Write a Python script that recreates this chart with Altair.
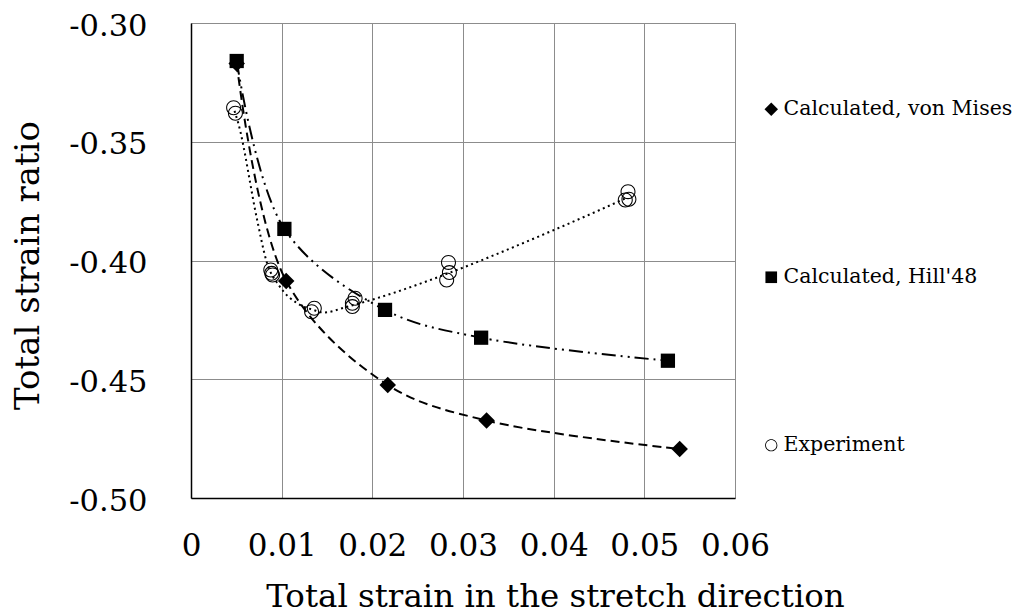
import altair as alt
import pandas as pd

names = ["Calculated, von Mises", "Calculated, Hill'48", "Experiment"]

vm_x = [0.00504, 0.0105, 0.0217, 0.0326, 0.0539]
vm_y = [-0.317, -0.4086, -0.4524, -0.4674, -0.4794]

hill_x = [0.00504, 0.0103, 0.0214, 0.0320, 0.0526]
hill_y = [-0.316, -0.3867, -0.4208, -0.4325, -0.4422]

exp_x = [0.0047, 0.0049, 0.0088, 0.0089, 0.0090, 0.0136, 0.0133,
         0.0181, 0.0178, 0.0178, 0.0284, 0.0285, 0.0282, 0.0482, 0.0479, 0.0483]
exp_y = [-0.3357, -0.3380, -0.4040, -0.4054, -0.4061, -0.4201, -0.4216,
         -0.4159, -0.4180, -0.4194, -0.4008, -0.4051, -0.4082, -0.3710, -0.3745, -0.3742]

# dotted trend curve through the experiment data
exp_curve_x = [0.0048, 0.0052, 0.0073, 0.0083, 0.0098, 0.0117, 0.0135, 0.0146,
               0.0172, 0.0199, 0.0230, 0.0264, 0.0400, 0.0451, 0.0481]
exp_curve_y = [-0.337, -0.342, -0.383, -0.400, -0.411, -0.418, -0.4208, -0.4219,
               -0.4195, -0.4166, -0.4128, -0.4082, -0.3872, -0.3787, -0.3735]

x_ticks = [0, 0.01, 0.02, 0.03, 0.04, 0.05, 0.06]
y_ticks = [-0.50, -0.45, -0.40, -0.35, -0.30]

FONT = "DejaVu Serif"
# marker shapes as unit-coordinate paths
DIAMOND = "M -1.1 0 L 0 -1.1 L 1.1 0 L 0 1.1 Z"
SQUARE = "M -0.95 -0.95 L 0.95 -0.95 L 0.95 0.95 L -0.95 0.95 Z"
RING = ("M -1 0 A 1 1 0 1 0 1 0 A 1 1 0 1 0 -1 0 Z "
        "M -0.86 0 A 0.86 0.86 0 1 1 0.86 0 A 0.86 0.86 0 1 1 -0.86 0 Z")

df_vm = pd.DataFrame({"x": vm_x, "y": vm_y, "series": names[0]})
df_hill = pd.DataFrame({"x": hill_x, "y": hill_y, "series": names[1]})
df_exp = pd.DataFrame({"x": exp_x, "y": exp_y, "series": names[2]})
df_curve = pd.DataFrame({"x": exp_curve_x, "y": exp_curve_y})
df_pts = pd.concat([df_vm, df_hill, df_exp], ignore_index=True)

X = alt.X("x:Q",
          scale=alt.Scale(domain=[0, 0.06], nice=False, zero=False),
          axis=alt.Axis(values=x_ticks,
                        labelExpr="datum.value == 0 ? '0' : format(datum.value, '.2f')",
                        title="Total strain in the stretch direction",
                        titleX=364, titleY=98, titleAnchor="middle",
                        titleAlign="center", titleBaseline="middle",
                        titleFontSize=32.5,
                        labelPadding=33))
Y = alt.Y("y:Q",
          scale=alt.Scale(domain=[-0.50, -0.30], nice=False, zero=False),
          axis=alt.Axis(values=y_ticks,
                        labelExpr="'-' + format(abs(datum.value), '.2f')",
                        title="Total strain ratio",
                        titleX=-163, titleY=242, titleAngle=270,
                        titleAlign="center", titleBaseline="middle",
                        titleFontSize=34,
                        labelFontSize=30.5,
                        labelOffset=3,
                        labelPadding=44))

vm_line = alt.Chart(df_vm).mark_line(
    color="black", strokeWidth=2, strokeDash=[9, 5], interpolate="catmull-rom"
).encode(x=X, y=Y)

hill_line = alt.Chart(df_hill).mark_line(
    color="black", strokeWidth=2, strokeDash=[14, 5, 2, 5, 2, 5], interpolate="catmull-rom"
).encode(x=X, y=Y)

exp_line = alt.Chart(df_curve).mark_line(
    color="black", strokeWidth=2, strokeDash=[2, 3.5], interpolate="monotone"
).encode(x=X, y=Y)

legend = alt.Legend(title=None, orient="none", legendX=570, legendY=76,
                    rowPadding=147, symbolSize=150, labelFont=FONT,
                    labelFontSize=20.5, labelColor="black", labelOffset=2,
                    labelLimit=0, symbolFillColor="black", symbolStrokeWidth=0,
                    symbolOpacity=1, padding=0)

points = alt.Chart(df_pts).mark_point(
    filled=True, color="black", opacity=1, size=225, strokeWidth=0
).encode(
    x=X, y=Y,
    shape=alt.Shape("series:N",
                    scale=alt.Scale(domain=names, range=[DIAMOND, SQUARE, RING]),
                    legend=legend),
)

chart = alt.layer(vm_line, hill_line, exp_line, points).properties(
    width=544, height=475,
    padding={"left": 183, "top": 15, "right": 284, "bottom": 116},
    autosize=alt.AutoSizeParams(type="none"),
    background="white",
).configure_view(
    stroke=None
).configure_axis(
    grid=True, gridColor="#8c8c8c", gridWidth=1,
    domainColor="black", domainWidth=1.5,
    ticks=False, tickSize=0,
    labelFont=FONT, labelFontSize=31, labelColor="black",
    titleFont=FONT, titleFontSize=32, titleColor="black", titleFontWeight="normal",
).configure_axisX(
    labelAlign="center"
)

chart.save("out.html", embed_options={"renderer": "svg", "actions": False})
